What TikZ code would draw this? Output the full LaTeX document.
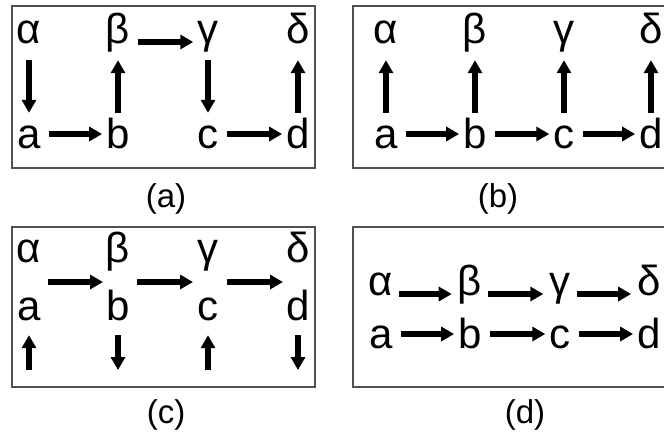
\documentclass[tikz,border=0pt]{standalone}
\usepackage{fontspec}
\setmainfont{Liberation Sans}
\usepackage{tikz}
\usetikzlibrary{arrows.meta,calc}
\definecolor{cInk}{HTML}{000000}
\definecolor{cFrame}{HTML}{505050}
\tikzset{
  gk/.style={font=\fontsize{42}{42}\selectfont,inner sep=0pt,anchor=base,text height=14pt,text depth=12pt,text=cInk},
  lt/.style={font=\fontsize{42}{42}\selectfont,inner sep=0pt,anchor=base,text height=30pt,text depth=2pt,text=cInk},
  captxt/.style={font=\fontsize{33}{33}\selectfont,inner sep=0pt,text=cInk},
  panel/.style={draw=cFrame,line width=1.2pt},
  arr/.style={-{Triangle[length=13pt,width=14pt]},line width=5.5pt,color=cInk},
  hlink/.style={arr,shorten <=8pt,shorten >=4pt},
  vlink/.style={arr,shorten <=5pt,shorten >=5pt},
}
\begin{document}
\begin{tikzpicture}[x=1pt,y=-1pt]
  \useasboundingbox (0,0) rectangle (664,432);
  \clip (0,0) rectangle (664,432);
  % panel frames
  \draw[panel] (12,6) rectangle (315,168);
  \draw[panel] (353,6) rectangle (700,168);
  \draw[panel] (12,227) rectangle (315,387);
  \draw[panel] (353,227) rectangle (700,387);

  % (a)
  \node[gk] (aA) at (29,43)  {α};
  \node[gk] (aB) at (118,43) {β};
  \node[gk] (aG) at (208,43) {γ};
  \node[gk] (aD) at (298,43) {δ};
  \node[lt] (aa) at (29,148)  {a};
  \node[lt] (ab) at (118,148) {b};
  \node[lt] (ac) at (208,148) {c};
  \node[lt] (ad) at (298,148) {d};
  \draw[vlink] (aA) -- (aa);
  \draw[vlink] (ab) -- (aB);
  \draw[vlink] (aG) -- (ac);
  \draw[vlink] (ad) -- (aD);
  \draw[hlink] (aB) -- (aG);
  \draw[hlink] (aa) -- (ab);
  \draw[hlink] (ac) -- (ad);
  \node[captxt] (capA) at (166,199) {(a)};

  % (b)
  \node[gk] (bA) at (386,43) {α};
  \node[gk] (bB) at (475,43) {β};
  \node[gk] (bG) at (564,43) {γ};
  \node[gk] (bD) at (651,43) {δ};
  \node[lt] (ba) at (386,148) {a};
  \node[lt] (bb) at (475,148) {b};
  \node[lt] (bc) at (564,148) {c};
  \node[lt] (bd) at (651,148) {d};
  \foreach \lo/\up in {ba/bA,bb/bB,bc/bG,bd/bD}
    \draw[vlink] (\lo) -- (\up);
  \draw[hlink] (ba) -- (bb);
  \draw[hlink] (bb) -- (bc);
  \draw[hlink] (bc) -- (bd);
  \node[captxt] (capB) at (498,199) {(b)};

  % (c)
  \node[gk] (cA) at (29,262)  {α};
  \node[gk] (cB) at (118,262) {β};
  \node[gk] (cG) at (208,262) {γ};
  \node[gk] (cD) at (298,262) {δ};
  \node[lt] (ca) at (29,320)  {a};
  \node[lt] (cb) at (118,320) {b};
  \node[lt] (cc) at (208,320) {c};
  \node[lt] (cd) at (298,320) {d};
  \coordinate (cm1) at ($(cA.south)!0.5!(ca.north)$);
  \coordinate (cm2) at ($(cB.south)!0.5!(cb.north)$);
  \coordinate (cm3) at ($(cG.south)!0.5!(cc.north)$);
  \coordinate (cm4) at ($(cD.south)!0.5!(cd.north)$);
  \draw[arr,shorten <=19pt,shorten >=15pt] (cm1) -- (cm2);
  \draw[arr,shorten <=19pt,shorten >=15pt] (cm2) -- (cm3);
  \draw[arr,shorten <=19pt,shorten >=15pt] (cm3) -- (cm4);
  \coordinate (ce1) at (29,370);
  \coordinate (ce2) at (118,370);
  \coordinate (ce3) at (208,370);
  \coordinate (ce4) at (298,370);
  \draw[arr,shorten >=13pt] (ce1) -- (ca.south);
  \draw[arr,shorten <=13pt] (cb.south) -- (ce2);
  \draw[arr,shorten >=13pt] (ce3) -- (cc.south);
  \draw[arr,shorten <=13pt] (cd.south) -- (ce4);
  \node[captxt] (capC) at (166,415) {(c)};

  % (d)
  \node[gk] (dA) at (381,295) {α};
  \node[gk] (dB) at (470,295) {β};
  \node[gk] (dG) at (560,295) {γ};
  \node[gk] (dD) at (649,295) {δ};
  \node[lt] (da) at (381,348) {a};
  \node[lt] (db) at (470,348) {b};
  \node[lt] (dc) at (560,348) {c};
  \node[lt] (dd) at (649,348) {d};
  \draw[arr,shorten <=6pt,shorten >=6pt] (dA) -- (dB);
  \draw[arr,shorten <=6pt,shorten >=6pt] (dB) -- (dG);
  \draw[arr,shorten <=6pt,shorten >=6pt] (dG) -- (dD);
  \draw[hlink] (da) -- (db);
  \draw[hlink] (db) -- (dc);
  \draw[hlink] (dc) -- (dd);
  \node[captxt] (capD) at (525,415) {(d)};
\end{tikzpicture}
\end{document}
